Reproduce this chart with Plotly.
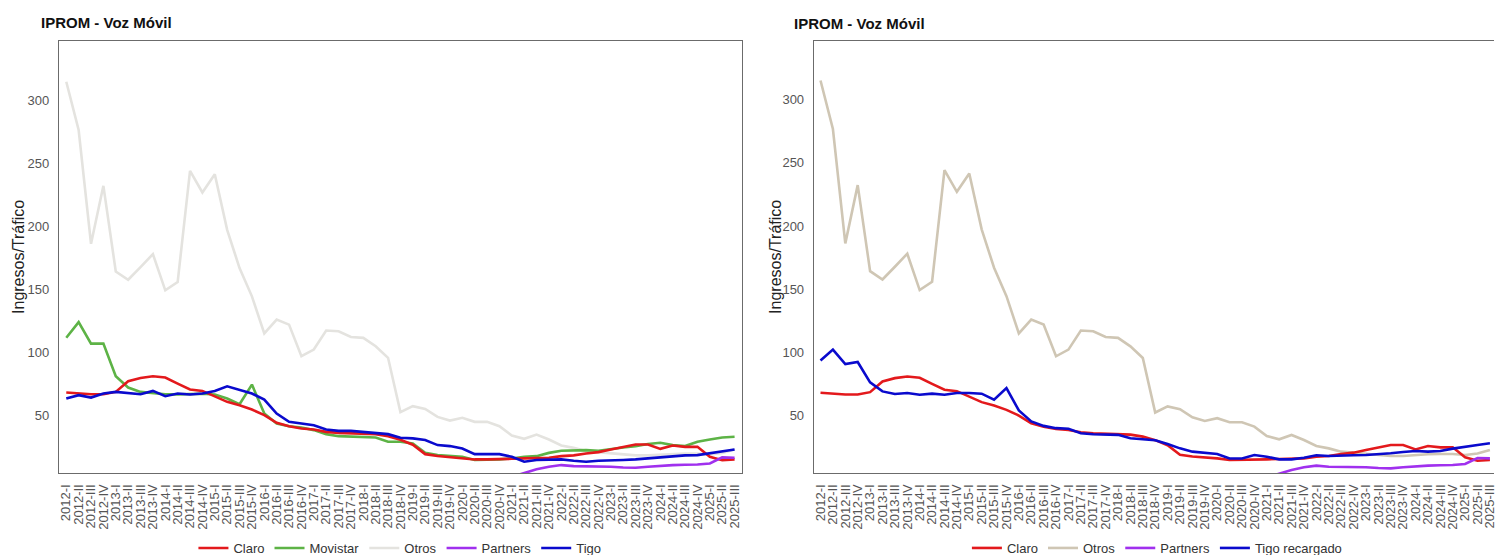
import plotly.graph_objects as go

quarters = [f"{y}-{q}" for y in range(2012, 2026) for q in ["I", "II", "III", "IV"]][:55]

claro = [68, 67.2, 66.6, 66.6, 68.5, 77, 79.6, 80.9, 79.9, 75.1,
         70.4, 69.3, 65, 60.6, 57.9, 54.5, 50, 43.9, 41.2, 39.4,
         38.6, 36.7, 35.9, 35.4, 35.4, 34.9, 33.3, 30.5, 26.5, 19,
         17.5, 16.8, 16.1, 14.8, 14.8, 14.8, 15.3, 15.6, 15.6, 16.1,
         17.4, 18, 19.5, 20.6, 22.7, 24.8, 26.7, 26.7, 23.2, 25.9,
         24.8, 24.8, 16.9, 14.2, 14.8]

movistar = [111.6, 124, 106.9, 106.9, 81, 72, 68.5, 67.7, 66.6, 66.5,
            66.6, 67, 66.5, 63.2, 58.7, 74.3, 51.3, 43.4, 41.2, 40.2,
            38.1, 34.9, 33.3, 32.8, 32.2, 32.2, 28.8, 28.8, 27.5, 20,
            18.2, 17.4, 16.9, 14.3, 14.3, 14.8, 15.6, 16.9, 17.4, 20,
            21.7, 22.2, 22.2, 21.7, 22.7, 24.3, 25.4, 27, 28, 26.2,
            25.4, 28.8, 30.7, 32.3, 32.8]

otros = [315.2, 276.8, 186.3, 232.4, 164.3, 157.7, 167.8, 178.1, 149.3, 155.9,
         244.3, 227.1, 241.6, 197.4, 167, 144.5, 115, 126, 122, 96.9,
         102.2, 117.3, 116.7, 112.2, 111.5, 104.8, 95.6, 52.4, 57.2, 55,
         48.6, 45.7, 47.9, 44.7, 44.7, 41.2, 33.8, 31.2, 34.6, 30.6,
         25.9, 24, 21.4, 20.6, 19.5, 18.7, 18, 18, 18.7, 19.3,
         19.5, 19.5, 18.7, 20, 22.7]

partners = [None] * 36 + [1.0, 4.2, 6.9, 9.0, 10.3, 9.5, 9.5, 9.5, 9.0, 8.4,
                          8.2, 9.0, 9.8, 10.3, 10.6, 10.8, 11.6, 16.4, 16.1]

tigo = [63.2, 65.9, 64, 67.2, 68.5, 67.7, 66.6, 69.3, 65.1, 67.2,
        66.4, 67.2, 69.3, 73, 70.4, 67.2, 62.4, 51.3, 44.7, 43.4,
        42, 38.6, 37.5, 37.5, 36.7, 35.9, 34.9, 32, 31.5, 30.2,
        26.2, 25.4, 23.5, 19, 19, 19, 16.9, 13, 14.3, 14.8,
        14.8, 13.7, 13, 13.7, 14.3, 14.3, 14.8, 15.6, 16.9, 17.4,
        18, 18.2, 19.6, 20.9, 22.7]

tigo_recargado = [93.5, 102.2, 90.8, 92.4, 76.3, 69.1, 67, 67.8, 66.5, 67.3,
                  66.5, 67.8, 67.8, 67.3, 62.5, 71.7, 54, 45.3, 41.8, 40,
                  39.5, 36, 35.2, 35.2, 34.7, 32, 31.3, 30.4, 27.5, 24,
                  21.4, 20.6, 19.5, 16, 16, 18.7, 17.4, 15.3, 15.3, 16.6,
                  18.5, 18, 18, 18.5, 18.7, 19.3, 20.1, 21.1, 21.9, 21.4,
                  21.9, 23.8, 25.4, 26.7, 28]

y_ticks = [50, 100, 150, 200, 250, 300]
panel_title = "IPROM - Voz Móvil"
y_title = "Ingresos/Tráfico"

C_CLARO = "#e3191c"
C_MOV = "#5db346"
C_OTROS_L = "#e4e3df"
C_OTROS_R = "#cfc6b4"
C_PART = "#a030ee"
C_TIGO = "#0a0acd"

W, H = 1497, 555
TOP, BOT = 41, 473
PH = BOT - TOP
FONT = "Liberation Sans, Arial, sans-serif"


def py(p):
    return (BOT - p) / PH


fig = go.Figure()

left = [("Claro", claro, C_CLARO), ("Movistar", movistar, C_MOV),
        ("Otros", otros, C_OTROS_L), ("Partners", partners, C_PART),
        ("Tigo", tigo, C_TIGO)]
draw_order_left = ["Otros", "Movistar", "Claro", "Partners", "Tigo"]
right = [("Claro", claro, C_CLARO), ("Otros", otros, C_OTROS_R),
         ("Partners", partners, C_PART), ("Tigo recargado", tigo_recargado, C_TIGO)]
draw_order_right = ["Otros", "Claro", "Partners", "Tigo recargado"]

for name in draw_order_left:
    idx = [s[0] for s in left].index(name)
    n, vals, col = left[idx]
    fig.add_trace(go.Scatter(x=quarters, y=vals, name=n, mode="lines",
                             line=dict(color=col, width=2.6),
                             xaxis="x", yaxis="y", legend="legend",
                             legendrank=idx + 1, connectgaps=False))
for name in draw_order_right:
    idx = [s[0] for s in right].index(name)
    n, vals, col = right[idx]
    fig.add_trace(go.Scatter(x=quarters, y=vals, name=n, mode="lines",
                             line=dict(color=col, width=2.6),
                             xaxis="x2", yaxis="y2", legend="legend2",
                             legendrank=idx + 1, connectgaps=False))

axis_common = dict(showgrid=False, zeroline=False, showline=True,
                   linecolor="#6b6b6b", linewidth=1.2,
                   ticks="outside", tickcolor="rgba(0,0,0,0)",
                   tickfont=dict(family=FONT, size=13, color="#555555"))
xcommon = dict(type="category", tickmode="array", tickvals=quarters,
               ticktext=quarters, tickangle=-90, ticklen=5)

fig.update_layout(
    width=W, height=H, autosize=False,
    margin=dict(l=0, r=0, t=TOP, b=H - BOT, pad=0),
    paper_bgcolor="white", plot_bgcolor="white",
    showlegend=True,
    xaxis=dict(domain=[58 / W, 743 / W], range=[-0.6, 54.6],
               mirror=True, anchor="y", **xcommon, **axis_common),
    yaxis=dict(domain=[0, 1], range=[4.0, 347.6], tickvals=y_ticks,
               ticklen=6, mirror=True, anchor="x", **axis_common),
    xaxis2=dict(domain=[815 / W, 1.0], range=[-0.54, 54.33],
                mirror=True, anchor="y2", **xcommon, **axis_common),
    yaxis2=dict(domain=[0, 1], range=[4.5, 346.5], tickvals=y_ticks,
                ticklen=6, mirror=False, anchor="x2", **axis_common),
    legend=dict(orientation="h", xref="paper", x=400 / W, xanchor="center",
                yref="container", y=(H - 548) / H, yanchor="middle",
                font=dict(family=FONT, size=13, color="#333333"),
                bgcolor="rgba(0,0,0,0)", traceorder="normal"),
    legend2=dict(orientation="h", xref="paper", x=1159 / W, xanchor="center",
                 yref="container", y=(H - 548) / H, yanchor="middle",
                 font=dict(family=FONT, size=13, color="#333333"),
                 bgcolor="rgba(0,0,0,0)", traceorder="normal"),
)

annots = [
    dict(text=f"<b>{panel_title}</b>", x=38 / W, y=py(23), xanchor="left"),
    dict(text=f"<b>{panel_title}</b>", x=793 / W, y=py(24), xanchor="left"),
]
for a in annots:
    fig.add_annotation(xref="paper", yref="paper", yanchor="middle",
                       showarrow=False, font=dict(family=FONT, size=15, color="#111111"),
                       **a)
for xc in (17, 776):
    fig.add_annotation(xref="paper", yref="paper", x=xc / W, y=py(257),
                       text=y_title, textangle=-90, showarrow=False,
                       xanchor="center", yanchor="middle",
                       font=dict(family=FONT, size=16, color="#222222"))

fig.write_html("out.html", config={"displayModeBar": False},
               post_script="document.body.style.margin='0';document.documentElement.style.overflow='hidden';")
